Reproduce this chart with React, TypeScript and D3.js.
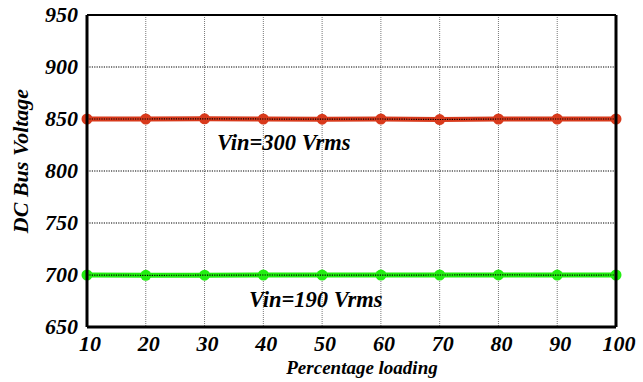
import { useEffect, useRef } from 'react';
import * as d3 from 'd3';

const loading = [10, 20, 30, 40, 50, 60, 70, 80, 90, 100];
const vin300 = [850, 850, 850.2, 850, 849.8, 850, 849.5, 850, 850, 850];
const vin190 = [700, 699.7, 699.8, 700, 699.9, 699.9, 700, 700.1, 699.9, 700];
const yTicks = [650, 700, 750, 800, 850, 900, 950];

export default function App() {
  const svgRef = useRef<SVGSVGElement>(null);

  useEffect(() => {
    if (!svgRef.current) return;
    const W = 643;
    const H = 382;
    const margin = { top: 15, right: 27, bottom: 55, left: 87 };
    const width = W - margin.left - margin.right;
    const height = H - margin.top - margin.bottom;
    const font = '"Liberation Serif", "Times New Roman", serif';

    const root = d3.select(svgRef.current);
    root.selectAll('*').remove();
    root.attr('width', W).attr('height', H);

    const svg = root.append('g').attr('transform', `translate(${margin.left},${margin.top})`);

    const x = d3.scaleLinear().domain([10, 100]).range([0, width]);
    const y = d3.scaleLinear().domain([650, 950]).range([height, 0]);

    const styleText = (sel: any, size: number) =>
      sel.style('font-family', font)
        .style('font-size', `${size}px`)
        .style('font-weight', 'bold')
        .style('font-style', 'italic')
        .attr('fill', '#000');

    // grid
    svg.append('g')
      .selectAll('line')
      .data(loading.slice(1, -1))
      .enter()
      .append('line')
      .attr('x1', d => x(d)).attr('x2', d => x(d))
      .attr('y1', 0).attr('y2', height)
      .attr('stroke', '#777')
      .attr('stroke-width', 1)
      .attr('stroke-dasharray', '1,1');

    svg.append('g')
      .selectAll('line')
      .data(yTicks.slice(1, -1))
      .enter()
      .append('line')
      .attr('x1', 0).attr('x2', width)
      .attr('y1', d => y(d)).attr('y2', d => y(d))
      .attr('stroke', '#000')
      .attr('stroke-width', 1.2)
      .attr('stroke-dasharray', '1.2,1.2');

    const series = [
      { values: vin300, color: '#d83a1c' },
      { values: vin190, color: '#22ee11' },
    ];

    const line = d3.line<number>()
      .x((_, i) => x(loading[i]))
      .y(d => y(d));

    series.forEach(s => {
      svg.append('path')
        .datum(s.values)
        .attr('fill', 'none')
        .attr('stroke', s.color)
        .attr('stroke-width', 5)
        .attr('d', line);
      svg.append('g')
        .selectAll('circle')
        .data(s.values)
        .enter()
        .append('circle')
        .attr('cx', (_, i) => x(loading[i]))
        .attr('cy', d => y(d))
        .attr('r', 5.5)
        .attr('fill', s.color);
      svg.append('path')
        .datum(s.values)
        .attr('fill', 'none')
        .attr('stroke', '#000')
        .attr('stroke-width', 1.2)
        .attr('stroke-dasharray', '1.2,1.2')
        .attr('d', line);
    });

    // frame
    svg.append('line').attr('x1', 0).attr('x2', width).attr('y1', 0).attr('y2', 0)
      .attr('stroke', '#000').attr('stroke-width', 2);
    svg.append('line').attr('x1', 0).attr('x2', width).attr('y1', height).attr('y2', height)
      .attr('stroke', '#000').attr('stroke-width', 3);
    svg.append('line').attr('x1', 0).attr('x2', 0).attr('y1', 0).attr('y2', height)
      .attr('stroke', '#000').attr('stroke-width', 3);
    svg.append('line').attr('x1', width).attr('x2', width).attr('y1', 0).attr('y2', height)
      .attr('stroke', '#000').attr('stroke-width', 3);

    // tick labels
    styleText(svg.append('g')
      .selectAll('text')
      .data(yTicks)
      .enter()
      .append('text')
      .attr('x', -9)
      .attr('y', d => y(d) + 7)
      .attr('text-anchor', 'end')
      .text(d => d), 22);

    styleText(svg.append('g')
      .selectAll('text')
      .data(loading)
      .enter()
      .append('text')
      .attr('x', d => x(d) + 3)
      .attr('y', height + 24)
      .attr('text-anchor', 'middle')
      .text(d => d), 22);

    // axis titles
    styleText(svg.append('text')
      .attr('x', 362 - margin.left)
      .attr('y', 374 - margin.top)
      .attr('text-anchor', 'middle')
      .text('Percentage loading'), 19);

    styleText(svg.append('text')
      .attr('transform', `translate(${28 - margin.left},${161 - margin.top}) rotate(-90)`)
      .attr('text-anchor', 'middle')
      .text('DC Bus Voltage'), 22);

    // annotations
    styleText(svg.append('text')
      .attr('x', 217 - margin.left)
      .attr('y', 150 - margin.top)
      .text('Vin=300 Vrms'), 22.5);

    styleText(svg.append('text')
      .attr('x', 249 - margin.left)
      .attr('y', 307 - margin.top)
      .text('Vin=190 Vrms'), 22.5);
  }, []);

  return <svg ref={svgRef} style={{ position: 'absolute', left: 0, top: 0 }}></svg>;
}
